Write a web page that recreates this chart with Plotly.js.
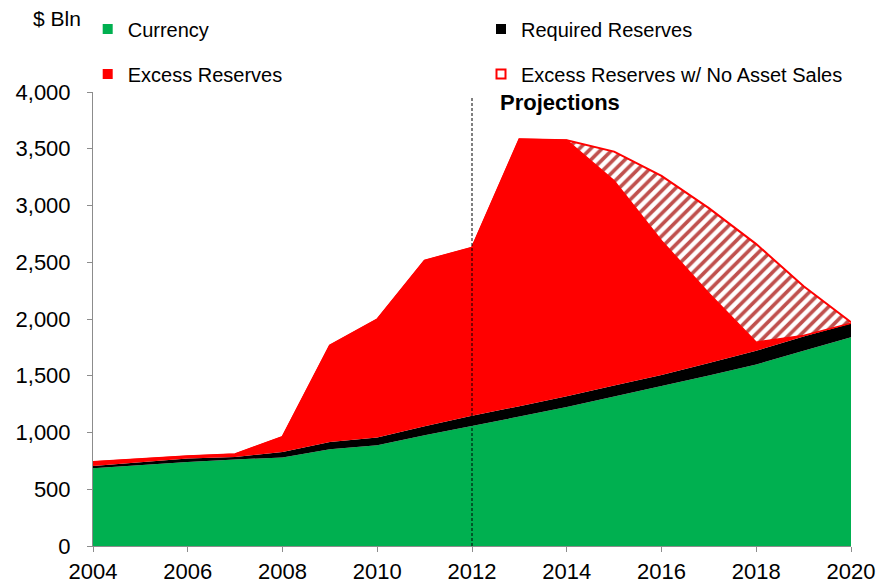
<!DOCTYPE html>
<html>
<head>
<meta charset="utf-8">
<script src="https://cdn.plot.ly/plotly-3.0.1.min.js"></script>
<style>
  html, body { margin: 0; padding: 0; background: #ffffff; }
  #chart { width: 877px; height: 587px; }
</style>
</head>
<body>
<div id="chart"></div>
<script>
// ---- Data ($ Bln) ----
const years = [2004, 2005, 2006, 2007, 2008, 2009, 2010, 2011, 2012, 2013, 2014, 2015, 2016, 2017, 2018, 2019, 2020];
const currency = [685, 715, 741, 762, 780, 853, 888, 975, 1055, 1140, 1225, 1320, 1410, 1503, 1600, 1720, 1840];
const requiredReserves = [20, 25, 30, 23, 49, 64, 67, 80, 92, 92, 94, 95, 97, 110, 120, 125, 120];
const excessReserves = [35, 28, 20, 24, 132, 850, 1041, 1459, 1482, 2352, 2256, 1803, 1183, 614, 76, 10, 2];
// additional excess reserves if no asset sales (stacked above excess reserves)
const noAssetSalesExtra = [0, 0, 0, 0, 0, 0, 0, 0, 0, 0, 0, 257, 571, 750, 864, 434, 10];

const seriesNames = ["Currency", "Required Reserves", "Excess Reserves", "Excess Reserves w/ No Asset Sales"];
const projectionStart = 2012;

const FONT = "Liberation Sans, Arial, Helvetica, sans-serif";

const traces = [
  {
    x: years, y: currency, name: seriesNames[0], type: "scatter", mode: "lines",
    stackgroup: "one", line: {width: 0, color: "#00B050"}, fillcolor: "#00B050",
    showlegend: false
  },
  {
    x: years, y: requiredReserves, name: seriesNames[1], type: "scatter", mode: "lines",
    stackgroup: "one", line: {width: 0, color: "#000000"}, fillcolor: "#000000",
    showlegend: false
  },
  {
    x: years, y: excessReserves, name: seriesNames[2], type: "scatter", mode: "lines",
    stackgroup: "one", line: {width: 1.5, color: "#FF0000"}, fillcolor: "#FF0000",
    showlegend: false
  },
  {
    x: years, y: noAssetSalesExtra, name: seriesNames[3], type: "scatter", mode: "lines",
    stackgroup: "one", line: {width: 2, color: "#FF0000"},
    fillcolor: "rgba(255,255,255,1)",
    fillpattern: {shape: "/", fgcolor: "#C0504D", bgcolor: "#FFFFFF", size: 8, solidity: 0.45},
    showlegend: false
  },
  // legend entries
  {x: [null], y: [null], type: "scatter", mode: "markers", name: seriesNames[0], legend: "legend",
   marker: {symbol: "square", size: 10, color: "#00B050"}},
  {x: [null], y: [null], type: "scatter", mode: "markers", name: seriesNames[1], legend: "legend2",
   marker: {symbol: "square", size: 10, color: "#000000"}},
  {x: [null], y: [null], type: "scatter", mode: "markers", name: seriesNames[2], legend: "legend3",
   marker: {symbol: "square", size: 10, color: "#FF0000"}},
  {x: [null], y: [null], type: "scatter", mode: "markers", name: seriesNames[3], legend: "legend4",
   marker: {symbol: "square", size: 9, color: "#FFFFFF", line: {color: "#FF0000", width: 2}}}
];

const legendCommon = {
  orientation: "h", xref: "container", yref: "container", xanchor: "left", yanchor: "middle",
  font: {family: FONT, size: 20, color: "#000000"},
  bgcolor: "rgba(0,0,0,0)", borderwidth: 0, itemclick: false, itemdoubleclick: false
};
const leftX = 0.1, rightX = (521 - 40) / 877;
const row1Y = 1 - 29 / 587, row2Y = 1 - 74 / 587;

const layout = {
  width: 877, height: 587,
  margin: {l: 93, r: 26, t: 92, b: 41, pad: 0, autoexpand: false},
  paper_bgcolor: "#FFFFFF", plot_bgcolor: "#FFFFFF",
  font: {family: FONT, size: 20, color: "#000000"},
  showlegend: true,
  legend: Object.assign({}, legendCommon, {x: leftX, y: row1Y}),
  legend2: Object.assign({}, legendCommon, {x: rightX, y: row1Y}),
  legend3: Object.assign({}, legendCommon, {x: leftX, y: row2Y}),
  legend4: Object.assign({}, legendCommon, {x: rightX, y: row2Y}),
  xaxis: {
    range: [2004, 2020], tick0: 2004, dtick: 2, tickmode: "linear",
    showgrid: false, zeroline: false, showline: true, linecolor: "#8C8C8C", linewidth: 1,
    ticks: "outside", ticklen: 5, tickcolor: "#8C8C8C", tickwidth: 1,
    tickfont: {family: FONT, size: 22, color: "#000000"}, ticklabelstandoff: 1
  },
  yaxis: {
    range: [0, 4000], tick0: 0, dtick: 500, tickmode: "linear", tickformat: ",d",
    showgrid: false, zeroline: false, showline: true, linecolor: "#8C8C8C", linewidth: 1,
    ticks: "outside", ticklen: 5, tickcolor: "#8C8C8C", tickwidth: 1,
    tickfont: {family: FONT, size: 22, color: "#000000"}, ticklabelstandoff: 12
  },
  shapes: [
    {type: "line", xref: "x", yref: "y", x0: projectionStart, x1: projectionStart, y0: 0, y1: 3950,
     line: {color: "#000000", width: 1, dash: "3px,2px"}, layer: "above"}
  ],
  annotations: [
    {text: "<b>Projections</b>", xref: "x", yref: "paper", x: projectionStart, y: (546 - 103) / 454,
     xanchor: "left", yanchor: "middle", xshift: 26, showarrow: false,
     font: {family: FONT, size: 22, color: "#000000"}},
    {text: "$ Bln", xref: "paper", yref: "paper", x: (31 - 93) / 758, y: (546 - 18) / 454,
     xanchor: "left", yanchor: "middle", showarrow: false,
     font: {family: FONT, size: 21, color: "#000000"}}
  ]
};

Plotly.newPlot("chart", traces, layout, {displayModeBar: false, staticPlot: true});
</script>
</body>
</html>
